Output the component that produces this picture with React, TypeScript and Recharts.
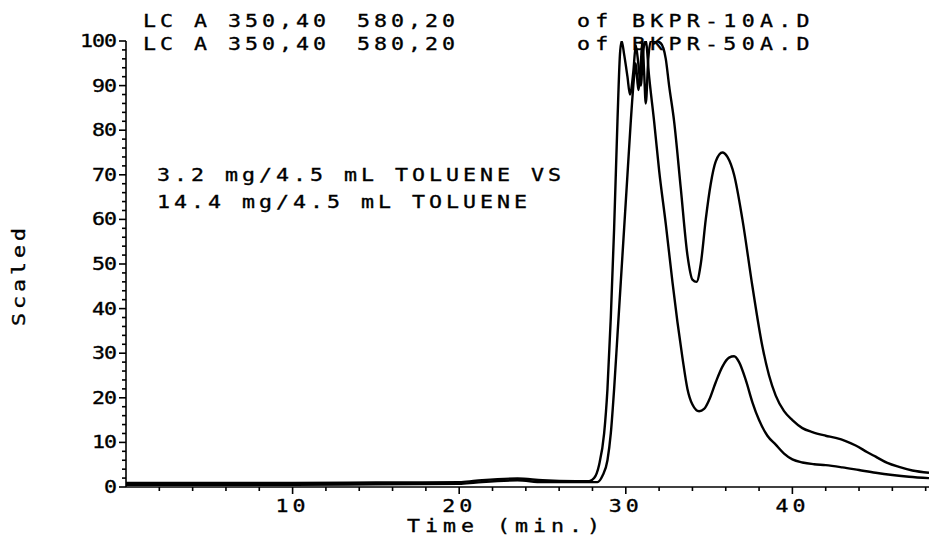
import React from 'react';
import { LineChart, Line, XAxis, YAxis } from 'recharts';

// chromatogram traces, [time (min), scaled response]
const traceLow: [number, number][] = [
  [0, 0.9], [5, 0.9], [10, 0.9], [15, 1.0], [20, 1.1], [21, 1.4], [23.5, 1.9], [25, 1.5], [27, 1.3], [27.8, 1.3],
  [28.1, 2], [28.4, 5], [28.7, 12], [28.9, 22], [29.1, 38], [29.3, 58], [29.5, 82], [29.65, 97], [29.75, 100],
  [29.9, 97], [30.1, 92], [30.25, 88], [30.45, 93], [30.6, 99], [30.75, 95], [30.9, 90], [31.05, 98], [31.2, 100],
  [31.4, 92], [31.7, 82], [32.0, 71], [32.4, 59], [32.8, 46], [33.1, 37], [33.4, 29], [33.7, 22], [34.0, 18.5],
  [34.4, 17], [34.7, 17.5], [35.0, 19.5], [35.4, 23.5], [35.8, 27], [36.2, 29], [36.5, 29.3], [36.8, 28],
  [37.2, 24], [37.6, 19], [38.0, 15], [38.5, 11.5], [39.0, 9.5], [39.5, 7.5], [40.0, 6.2], [40.6, 5.5],
  [41.3, 5.1], [42.0, 4.9], [43.0, 4.4], [44.0, 3.8], [45.0, 3.2], [46.0, 2.7], [47.0, 2.3], [48.2, 2.0],
];

const traceHigh: [number, number][] = [
  [0, 0.5], [10, 0.5], [15, 0.6], [20, 0.7], [21, 1.0], [23.5, 1.5], [25, 1.1], [28.3, 1.1],
  [28.6, 2.5], [28.9, 6], [29.1, 12], [29.3, 22], [29.5, 34], [29.7, 46], [29.9, 58], [30.1, 70], [30.3, 82],
  [30.5, 92], [30.6, 95], [30.75, 89], [30.9, 95], [31.0, 100], [31.1, 93], [31.2, 86], [31.35, 96], [31.5, 100],
  [31.8, 100], [32.1, 99.5], [32.4, 96], [32.6, 90], [32.9, 82], [33.3, 67], [33.7, 52], [34.0, 46.5],
  [34.25, 46], [34.5, 50], [34.8, 60], [35.1, 68], [35.4, 73], [35.8, 75], [36.1, 74], [36.5, 70], [37.0, 60],
  [37.6, 45], [38.2, 31.5], [38.6, 25], [39.0, 20.5], [39.5, 17], [40.0, 15], [40.6, 13.2], [41.2, 12.3],
  [42.0, 11.5], [42.6, 11], [43.2, 10.3], [43.8, 9.3], [44.5, 7.8], [45.0, 6.8], [45.7, 5.4], [46.4, 4.5],
  [47.2, 3.7], [48.2, 3.2],
];

const xTicks = Array.from({ length: 24 }, (_, i) => (i + 1) * 2);
const yTicks = Array.from({ length: 51 }, (_, i) => i * 2);

const methodLabel = 'LC A 350,40';
const signalLabel = '580,20';
const fileLabels = ['of BKPR-10A.D', 'of BKPR-50A.D'];
const noteLines = ['3.2 mg/4.5 mL TOLUENE VS', '14.4 mg/4.5 mL TOLUENE'];

const FONT = '"DejaVu Sans Mono", monospace';
const STRETCH = 1.2; // widen the mono glyphs to a plotter look
const ADVANCE = 0.602 * 18; // DejaVu Sans Mono advance at 18px

type PlotTextProps = {
  x: number;
  y: number;
  pitch?: number;
  anchor?: 'start' | 'middle' | 'end';
  rotate?: number;
  children: React.ReactNode;
};

// fixed-pitch label; pitch is the distance between character starts in px
const PlotText = ({ x, y, pitch = 17, anchor = 'start', rotate = 0, children }: PlotTextProps) => (
  <text
    transform={`translate(${x} ${y}) rotate(${rotate}) scale(${STRETCH} 1)`}
    textAnchor={anchor}
    fontFamily={FONT}
    fontSize={18}
    letterSpacing={pitch / STRETCH - ADVANCE}
    fill="#000"
    stroke="#000"
    strokeWidth={0.35}
    style={{ whiteSpace: 'pre' }}
  >
    {children}
  </text>
);

const toRows = (pts: [number, number][]) => pts.map(([t, v]) => ({ t, v }));

const XTick = (props: any) => {
  const { x, y, payload } = props;
  const major = payload.value % 10 === 0;
  return (
    <g>
      <line x1={x} y1={y} x2={x} y2={y + (major ? 7 : 4)} stroke="#000" strokeWidth={1.6} />
      {major && (
        <PlotText x={x} y={y + 25} anchor="middle">
          {payload.value}
        </PlotText>
      )}
    </g>
  );
};

const YTick = (props: any) => {
  const { x, y, payload } = props;
  const major = payload.value % 10 === 0;
  return (
    <g>
      <line x1={x - (major ? 7 : 4)} y1={y} x2={x} y2={y} stroke="#000" strokeWidth={1.6} />
      {major && (
        <PlotText x={x - 10} y={y + 6} anchor="end" pitch={12}>
          {payload.value}
        </PlotText>
      )}
    </g>
  );
};

export default function App() {
  return (
    <div style={{ position: 'absolute', left: 0, top: 0, width: 929, height: 539, background: '#fff' }}>
      <LineChart width={929} height={539} margin={{ top: 41, right: 0, bottom: 2, left: 66 }}>
        <XAxis
          type="number"
          dataKey="t"
          domain={[0, 48.2]}
          ticks={xTicks}
          allowDataOverflow
          height={50}
          tickLine={false}
          tickSize={0}
          tickMargin={0}
          tick={<XTick />}
          interval={0}
          axisLine={{ stroke: '#000', strokeWidth: 1.6 }}
        />
        <YAxis
          type="number"
          domain={[0, 100]}
          ticks={yTicks}
          allowDataOverflow
          width={60}
          tickLine={false}
          tickSize={0}
          tickMargin={0}
          tick={<YTick />}
          interval={0}
          axisLine={{ stroke: '#000', strokeWidth: 1.6 }}
        />
        <Line data={toRows(traceLow)} dataKey="v" type="monotone" stroke="#000" strokeWidth={2.4} dot={false} isAnimationActive={false} />
        <Line data={toRows(traceHigh)} dataKey="v" type="monotone" stroke="#000" strokeWidth={2.4} dot={false} isAnimationActive={false} />
        {fileLabels.map((file, i) => (
          <g key={file}>
            <PlotText x={143} y={27 + i * 23}>{methodLabel}</PlotText>
            <PlotText x={357} y={27 + i * 23}>{signalLabel}</PlotText>
            <PlotText x={577} y={27 + i * 23} pitch={18.3}>{file}</PlotText>
          </g>
        ))}
        {noteLines.map((line, i) => (
          <PlotText key={line} x={157} y={181 + i * 27}>
            {line}
          </PlotText>
        ))}
        <PlotText x={407} y={532} pitch={18}>
          Time (min.)
        </PlotText>
        <PlotText x={25} y={275} anchor="middle" rotate={-90}>
          Scaled
        </PlotText>
      </LineChart>
    </div>
  );
}
